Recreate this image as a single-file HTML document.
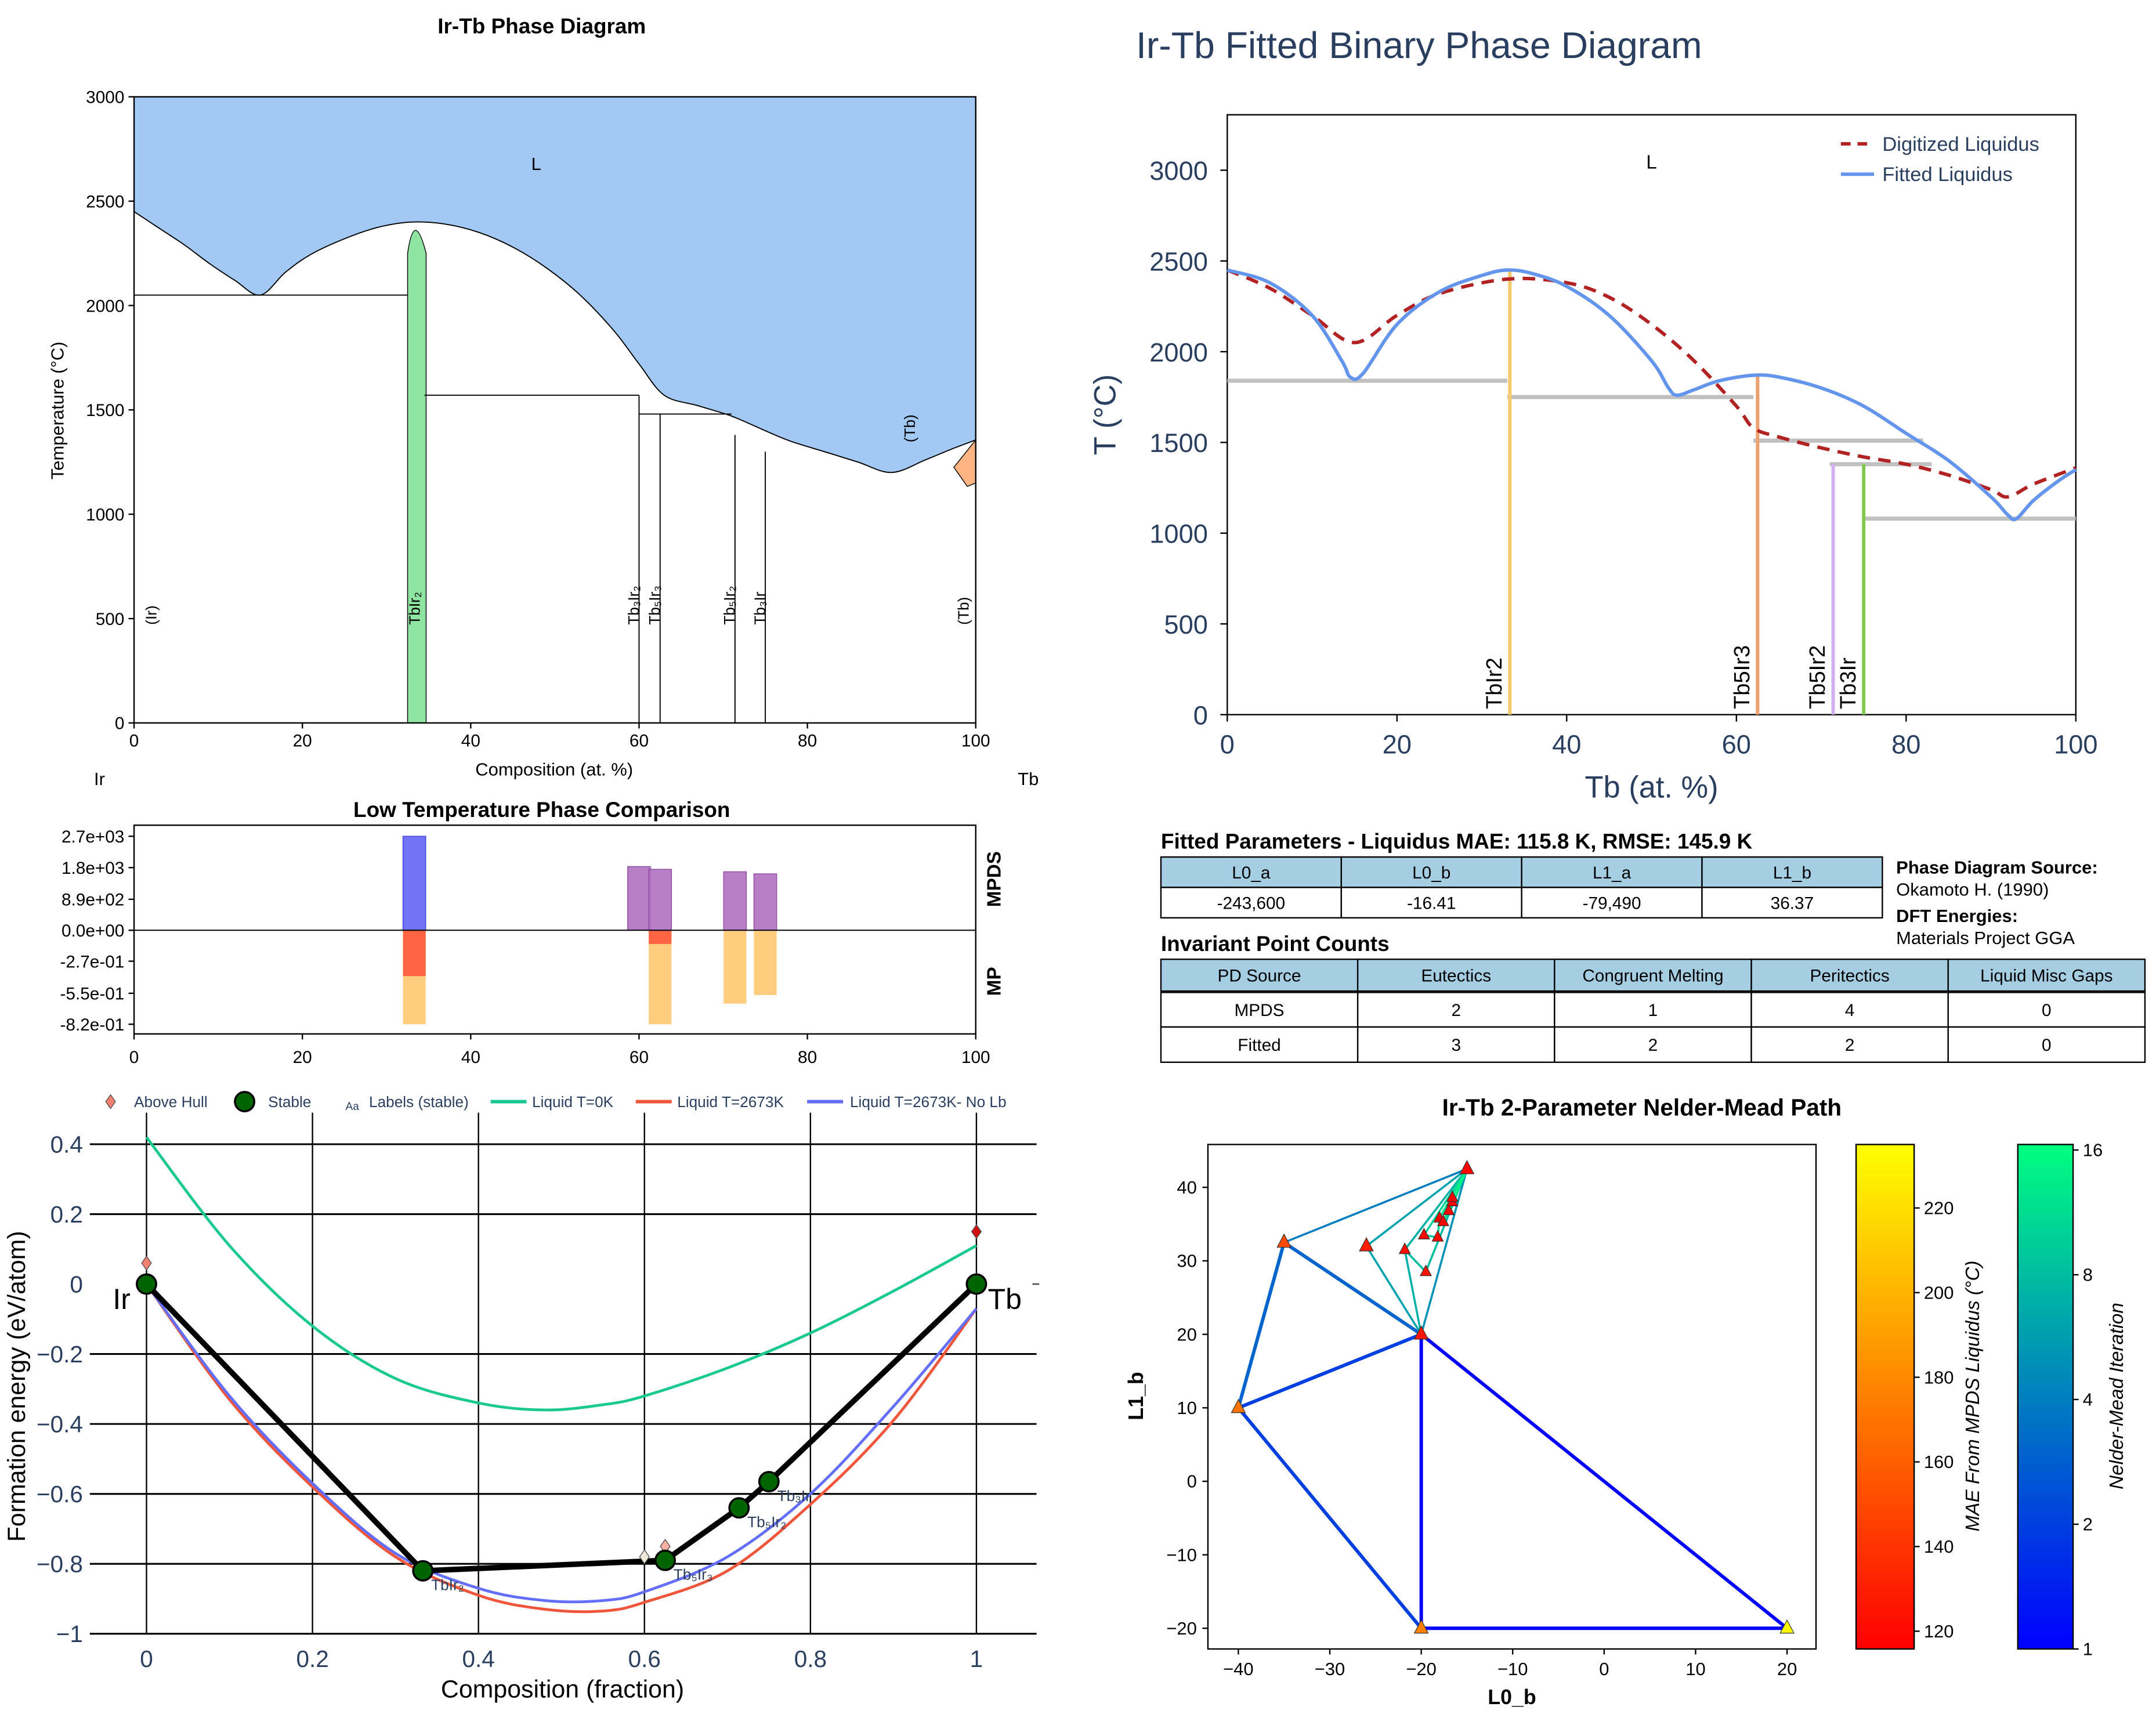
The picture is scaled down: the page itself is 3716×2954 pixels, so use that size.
<!DOCTYPE html>
<html><head><meta charset="utf-8"><style>
html,body{margin:0;padding:0;background:#fff;}
svg{display:block;font-family:"Liberation Sans","DejaVu Sans",sans-serif;}
</style></head><body>
<svg id="root" width="3716" height="2954" viewBox="0 0 1560 1240" xmlns="http://www.w3.org/2000/svg">
<rect x="0" y="0" width="1560" height="1240" fill="#fff"/>
</svg>
<script>
// ---------- Panel 1 data ----------
const pdLiquidus = [[0,2450],[3,2370],[6,2290],[9,2200],[12,2120],[15,2050],[18,2160],[21,2245],[25,2320],[29,2375],[33,2400],[37,2390],[41,2350],[45,2280],[49,2180],[53,2050],[57,1880],[60,1720],[63,1570],[67,1520],[71,1470],[75,1400],[78,1350],[82,1300],[86,1250],[90,1200],[94,1260],[97,1310],[100,1356]];
const pdXTicks = [0,20,40,60,80,100];
const pdYTicks = [0,500,1000,1500,2000,2500,3000];
const pdHLines = [[0,32.5,2050],[34.5,60,1570],[60,71,1480]];
const pdVLines = [[60,1570],[62.5,1480],[71.4,1380],[75,1300]];
const pdPhaseLabels = [["(Ir)",2],["TbIr₂",33.3],["Tb₃Ir₂",59.3],["Tb₅Ir₃",61.8],["Tb₅Ir₂",70.7],["Tb₃Ir",74.3],["(Tb)",98.5]];
// ---------- Panel 2 data ----------
const cmpPos = [33.3,60,62.5,71.4,75];
const cmpMPDS = [2700,1830,1750,1680,1620];
const cmpMP = [-0.82,null,-0.82,-0.64,-0.565];
const cmpMPred = [-0.40,null,-0.12,null,null];
const cmpTopTicks = ["2.7e+03","1.8e+03","8.9e+02","0.0e+00"];
const cmpTopVals = [2700,1800,890,0];
const cmpBotTicks = ["-2.7e-01","-5.5e-01","-8.2e-01"];
const cmpBotVals = [-0.27,-0.55,-0.82];
// ---------- Panel 3 data ----------
const hullX = [0,0.333,0.625,0.714,0.75,1];
const hullE = [0,-0.82,-0.79,-0.64,-0.565,0];
const hullLabels = ["","TbIr₂","Tb₅Ir₃","Tb₅Ir₂","Tb₃Ir",""];
const aboveX = [0,0.6,0.625,1,1];
const aboveE = [0.06,-0.78,-0.75,0.15,0.01];
const aboveColors = ["#f08070","#f0e8d8","#f8b0a0","#d01010","#f0e8d8"];
const liqX = [0,0.1,0.2,0.3,0.4,0.48,0.55,0.6,0.7,0.8,0.9,1];
const liq0K = [0.42,0.11,-0.12,-0.27,-0.34,-0.36,-0.345,-0.32,-0.24,-0.14,-0.02,0.11];
const liqHot = [0,-0.33,-0.58,-0.78,-0.89,-0.93,-0.935,-0.91,-0.82,-0.63,-0.39,-0.07];
const liqNoLb = [0,-0.32,-0.57,-0.77,-0.87,-0.905,-0.905,-0.88,-0.78,-0.6,-0.35,-0.07];
const hullXTicks = [0,0.2,0.4,0.6,0.8,1];
const hullYTicks = [0.4,0.2,0,-0.2,-0.4,-0.6,-0.8,-1];
// ---------- Panel 4 data ----------
const fitDigX = [0,5,10,15,20,25,33,40,45,50,55,60,62,65,70,75,80,85,90,92,95,100];
const fitDigT = [2450,2350,2200,2050,2200,2320,2400,2380,2300,2150,1950,1700,1580,1530,1470,1420,1380,1320,1240,1200,1270,1360];
const fitFX = [0,5,10,13.5,14.5,16,20,25,30,33,36,40,45,50,52,53,55,58,62,65,70,75,80,85,90,92,93,95,98,100];
const fitFT = [2450,2380,2200,1950,1860,1880,2150,2330,2420,2450,2430,2360,2200,1950,1800,1760,1790,1840,1870,1860,1800,1700,1550,1400,1200,1100,1080,1180,1290,1350];
const fitInv = [[0,33,1840],[33,62,1750],[62,82,1510],[71,83,1380],[75,100,1080]];
const fitPhases = ["TbIr2","Tb5Ir3","Tb5Ir2","Tb3Ir"];
const fitPhaseX = [33.3,62.5,71.4,75];
const fitPhaseT = [2450,1870,1380,1380];
const fitPhaseColors = ["#f5c96b","#f0a070","#d4aef2","#80c850"];
const fitXTicks = [0,20,40,60,80,100];
const fitYTicks = [0,500,1000,1500,2000,2500,3000];
// ---------- Panel 5 data ----------
const nmL0 = [20,-20,-20,-40,-35,-26,-15,-21.8,-19.5,-19.7,-18.2,-18,-17.6,-17,-16.6,-16.6];
const nmL1 = [-20,-20,20,10,32.5,32,42.5,31.5,28.5,33.5,33.2,35.8,35.3,36.8,38,38.6];
const nmMAE = [232,175,125,170,150,130,118,122,125,120,120,118,118,117,116,116];
const nmEdgeA = [1,0,1,3,3,3,4,4,6,5,5,7,7,8,8,9,9,10,11,12,13,14];
const nmEdgeB = [0,2,2,1,2,4,2,6,2,2,6,2,6,7,6,10,6,11,6,6,6,6];
const nmEdgeIter = [1,1,1,2,2,3,3,4,5,6,6,7,7,8,8,9,10,11,12,13,14,15];
const nmXTicks = [-40,-30,-20,-10,0,10,20];
const nmYTicks = [-20,-10,0,10,20,30,40];
const maeTicks = [120,140,160,180,200,220];
const iterTicks = [1,2,4,8,16];

const NS = "http://www.w3.org/2000/svg";
const root = document.getElementById('root');
function mk(tag, attrs, parent){const e=document.createElementNS(NS,tag);for(const k in attrs)e.setAttribute(k,attrs[k]);(parent||root).appendChild(e);return e;}
function txt(s, x, y, attrs, parent){const e=mk('text',Object.assign({x:x,y:y},attrs||{}),parent);e.textContent=s;return e;}
function poly(pts){return pts.map(p=>p[0].toFixed(2)+','+p[1].toFixed(2)).join(' ');}
function smooth(pts){let d='M'+pts[0][0].toFixed(2)+','+pts[0][1].toFixed(2);
 for(let i=0;i<pts.length-1;i++){const p0=pts[Math.max(0,i-1)],p1=pts[i],p2=pts[i+1],p3=pts[Math.min(pts.length-1,i+2)];
 const c1=[p1[0]+(p2[0]-p0[0])/6,p1[1]+(p2[1]-p0[1])/6],c2=[p2[0]-(p3[0]-p1[0])/6,p2[1]-(p3[1]-p1[1])/6];
 d+=` C${c1[0].toFixed(2)},${c1[1].toFixed(2)} ${c2[0].toFixed(2)},${c2[1].toFixed(2)} ${p2[0].toFixed(2)},${p2[1].toFixed(2)}`;}
 return d;}

// ================= PANEL 1 =================
(function(){
const g=mk('g',{});


const X=c=>97+c*6.09, Y=T=>523-T*453/3000;
const lp=pdLiquidus.map(p=>[X(p[0]),Y(p[1])]);
const sp=smooth(lp);
const liq=mk('path',{d:`M${X(0)},${Y(3000)} L${lp[0][0]},${lp[0][1]} `+sp.slice(sp.indexOf('C'))+` L${X(100)},${Y(3000)} Z`,fill:'#a1c9f4',stroke:'none'},g);


const ll=mk('path',{d:sp,fill:'none',stroke:'#000','stroke-width':0.8},g);


const tri=mk('polygon',{points:poly([[X(100),Y(1356)],[X(97.4),Y(1225)],[X(99),Y(1133)],[X(100),Y(1150)]]),fill:'#ffb482',stroke:'#000','stroke-width':0.6},g);


const band=mk('path',{d:`M${X(32.5)},${Y(0)} L${X(32.5)},${Y(2250)} Q${X(33.3)},${Y(2470)} ${X(34.7)},${Y(2250)} L${X(34.7)},${Y(0)} Z`,fill:'#8de5a1',stroke:'#000','stroke-width':0.6},g);


pdHLines.forEach(h=>{const l=mk('line',{x1:X(h[0]),x2:X(h[1]),y1:Y(h[2]),y2:Y(h[2]),stroke:'#000','stroke-width':0.8},g);

});
pdVLines.forEach(v=>{const l=mk('line',{x1:X(v[0]),x2:X(v[0]),y1:Y(0),y2:Y(v[1]),stroke:'#000','stroke-width':0.8},g);

});
const fr=mk('rect',{x:X(0),y:Y(3000),width:X(100)-X(0),height:Y(0)-Y(3000),fill:'none',stroke:'#000','stroke-width':1},g);


pdXTicks.forEach(t=>{mk('line',{x1:X(t),x2:X(t),y1:Y(0),y2:Y(0)+4,stroke:'#000'},g);
const e=txt(String(t),X(t),540,{'font-size':12.5,'text-anchor':'middle'},g);

});
pdYTicks.forEach(t=>{mk('line',{x1:X(0)-4,x2:X(0),y1:Y(t),y2:Y(t),stroke:'#000'},g);
const e=txt(String(t),X(0)-7,Y(t)+4.5,{'font-size':12.5,'text-anchor':'end'},g);

});
pdPhaseLabels.forEach(p=>{const x=X(p[1])+4,y=452;const e=txt(p[0],x,y,{'font-size':11,transform:`rotate(-90 ${x} ${y})`},g);

});
let e=txt('(Tb)',662,320,{'font-size':11,transform:'rotate(-90 662 320)'},g);


e=txt('L',388,123,{'font-size':13,'text-anchor':'middle'},g);


e=txt('Ir-Tb Phase Diagram',392,24,{'font-size':15.5,'font-weight':'bold','text-anchor':'middle'},g);


e=txt('Composition (at. %)',401,561,{'font-size':13,'text-anchor':'middle'},g);


e=txt('Temperature (°C)',46,297,{'font-size':13,'text-anchor':'middle',transform:'rotate(-90 46 297)'},g);


e=txt('Ir',72,568,{'font-size':13,'text-anchor':'middle'},g);


e=txt('Tb',744,568,{'font-size':13,'text-anchor':'middle'},g);


})();

// ================= PANEL 2 =================
(function(){
const g=mk('g',{});


const X=c=>97+c*6.09, YT=v=>673-v*68/2700, YB=v=>673+(-v)*68/0.82;
const bw=2.7*6.09;
cmpPos.forEach((c,i)=>{
 const v=cmpMPDS[i];
 const b=mk('rect',{x:X(c)-bw/2,y:YT(v),width:bw,height:673-YT(v),fill:i===0?'#6b6bf5':'#b070c0','fill-opacity':i===0?0.95:0.9,stroke:i===0?'#4040e0':'#904aa0','stroke-width':0.6},g);
 
 
 if(cmpMP[i]!==null){const m=mk('rect',{x:X(c)-bw/2,y:673,width:bw,height:YB(cmpMP[i])-673,fill:'#ffc870','fill-opacity':0.9},g);
 
 }
 if(cmpMPred[i]!==null){const r=mk('rect',{x:X(c)-bw/2,y:673,width:bw,height:YB(cmpMPred[i])-673,fill:'#ff5a3c','fill-opacity':0.9},g);
 
 }
});
mk('line',{x1:X(0),x2:X(100),y1:673,y2:673,stroke:'#000','stroke-width':0.8},g);
const fr=mk('rect',{x:X(0),y:597,width:X(100)-X(0),height:151,fill:'none',stroke:'#000','stroke-width':1},g);


cmpTopVals.forEach((v,i)=>{mk('line',{x1:X(0)-4,x2:X(0),y1:YT(v),y2:YT(v),stroke:'#000'},g);
const e=txt(cmpTopTicks[i],X(0)-7,YT(v)+4.5,{'font-size':12.5,'text-anchor':'end'},g);

});
cmpBotVals.forEach((v,i)=>{mk('line',{x1:X(0)-4,x2:X(0),y1:YB(v),y2:YB(v),stroke:'#000'},g);
const e=txt(cmpBotTicks[i],X(0)-7,YB(v)+4.5,{'font-size':12.5,'text-anchor':'end'},g);

});
pdXTicks.forEach(t=>{mk('line',{x1:X(t),x2:X(t),y1:748,y2:752,stroke:'#000'},g);
const e=txt(String(t),X(t),769,{'font-size':12.5,'text-anchor':'middle'},g);

});
let e=txt('Low Temperature Phase Comparison',392,591,{'font-size':15.5,'font-weight':'bold','text-anchor':'middle'},g);


e=txt('MPDS',724,636,{'font-size':14,'font-weight':'bold','text-anchor':'middle',transform:'rotate(-90 724 636)'},g);


e=txt('MP',724,710,{'font-size':14,'font-weight':'bold','text-anchor':'middle',transform:'rotate(-90 724 710)'},g);


})();

// ================= PANEL 3 =================
(function(){
const g=mk('g',{});


const X=f=>106+f*600.5, Y=v=>929-v*253;
hullYTicks.forEach(t=>{const l=mk('line',{x1:65,x2:750,y1:Y(t),y2:Y(t),stroke:'#000','stroke-width':t===0?0:1.3},g);


const e=txt(t===0?'0':String(t).replace('-','−'),60,Y(t)+6,{'font-size':17,'text-anchor':'end',fill:'#2a3f5f'},g);

});
mk('line',{x1:747,x2:752,y1:Y(0),y2:Y(0),stroke:'#444'},g);
hullXTicks.forEach(t=>{const l=mk('line',{x1:X(t),x2:X(t),y1:805,y2:Y(-1),stroke:'#000','stroke-width':1},g);


const e=txt(String(t),X(t),1206,{'font-size':17,'text-anchor':'middle',fill:'#2a3f5f'},g);

});
function curve(xs,ys,col,name){const p=mk('path',{d:smooth(xs.map((x,i)=>[X(x),Y(ys[i])])),fill:'none',stroke:col,'stroke-width':2,'stroke-linejoin':'round'},g);

}
curve(liqX,liq0K,'#19c98f','liquid-0k-curve');
curve(liqX,liqHot,'#ef553b','liquid-2673k-curve');
curve(liqX,liqNoLb,'#636efa','liquid-2673k-no-lb-curve');
const h=mk('polyline',{points:poly(hullX.map((x,i)=>[X(x),Y(hullE[i])])),fill:'none',stroke:'#000','stroke-width':4,'stroke-linejoin':'round'},g);


aboveX.forEach((x,i)=>{const cx=X(x),cy=Y(aboveE[i]);const d=mk('polygon',{points:poly([[cx,cy-5],[cx+3.5,cy],[cx,cy+5],[cx-3.5,cy]]),fill:aboveColors[i],stroke:'#555','stroke-width':0.6},g);

});
hullX.forEach((x,i)=>{const c=mk('circle',{cx:X(x),cy:Y(hullE[i]),r:7,fill:'#006400',stroke:'#000','stroke-width':1.5},g);


if(hullLabels[i]){const e=txt(hullLabels[i],X(x)+6,Y(hullE[i])+14,{'font-size':11,fill:'#2a3f5f'},g);

}});
let e=txt('Ir',88,947,{'font-size':21,'text-anchor':'middle'},g);


e=txt('Tb',727,947,{'font-size':21,'text-anchor':'middle'},g);


e=txt('Composition (fraction)',407,1228,{'font-size':18,'text-anchor':'middle',fill:'#000'},g);


e=txt('Formation energy (eV/atom)',18,1003,{'font-size':18,'text-anchor':'middle',transform:'rotate(-90 18 1003)'},g);


const lg=mk('g',{},g);


mk('polygon',{points:poly([[80,792],[83.5,797],[80,802],[76.5,797]]),fill:'#f08070',stroke:'#555','stroke-width':0.6},lg);
txt('Above Hull',97,801,{'font-size':11,fill:'#2a3f5f'},lg);
mk('circle',{cx:177,cy:797,r:7,fill:'#006400',stroke:'#000','stroke-width':1.5},lg);
txt('Stable',194,801,{'font-size':11,fill:'#2a3f5f'},lg);
txt('Aa',250,803,{'font-size':8,fill:'#2a3f5f'},lg);
txt('Labels (stable)',267,801,{'font-size':11,fill:'#2a3f5f'},lg);
mk('line',{x1:355,x2:381,y1:797,y2:797,stroke:'#19c98f','stroke-width':2.5},lg);
txt('Liquid T=0K',385,801,{'font-size':11,fill:'#2a3f5f'},lg);
mk('line',{x1:460,x2:486,y1:797,y2:797,stroke:'#ef553b','stroke-width':2.5},lg);
txt('Liquid T=2673K',490,801,{'font-size':11,fill:'#2a3f5f'},lg);
mk('line',{x1:584,x2:610,y1:797,y2:797,stroke:'#636efa','stroke-width':2.5},lg);
txt('Liquid T=2673K- No Lb',615,801,{'font-size':11,fill:'#2a3f5f'},lg);
})();

// ================= PANEL 4 =================
(function(){
const g=mk('g',{});


const X=c=>888+c*6.14, Y=T=>517-T*0.1313;
const fr=mk('rect',{x:888,y:83,width:614,height:434,fill:'#fff',stroke:'#000','stroke-width':1},g);


fitInv.forEach(h=>{const l=mk('line',{x1:X(h[0]),x2:X(h[1]),y1:Y(h[2]),y2:Y(h[2]),stroke:'#c0c0c0','stroke-width':3},g);

});
fitPhases.forEach((p,i)=>{const l=mk('line',{x1:X(fitPhaseX[i]),x2:X(fitPhaseX[i]),y1:Y(0),y2:Y(fitPhaseT[i]),stroke:fitPhaseColors[i],'stroke-width':2.5},g);


const x=X(fitPhaseX[i])-6,y=513;const e=txt(p,x,y,{'font-size':16,fill:'#000',transform:`rotate(-90 ${x} ${y})`},g);

});
const d=mk('path',{d:smooth(fitDigX.map((x,i)=>[X(x),Y(fitDigT[i])])),fill:'none',stroke:'#b22222','stroke-width':2.5,'stroke-dasharray':'9,6'},g);


const f=mk('path',{d:smooth(fitFX.map((x,i)=>[X(x),Y(fitFT[i])])),fill:'none',stroke:'#6495ed','stroke-width':2.5,'stroke-linejoin':'round'},g);


fitXTicks.forEach(t=>{mk('line',{x1:X(t),x2:X(t),y1:517,y2:522,stroke:'#000'},g);
const e=txt(String(t),X(t),545,{'font-size':19,'text-anchor':'middle',fill:'#2a3f5f'},g);

});
fitYTicks.forEach(t=>{mk('line',{x1:883,x2:888,y1:Y(t),y2:Y(t),stroke:'#000'},g);
const e=txt(String(t),874,Y(t)+7,{'font-size':19,'text-anchor':'end',fill:'#2a3f5f'},g);

});
let e=txt('Ir-Tb Fitted Binary Phase Diagram',822,42,{'font-size':27,fill:'#2a3f5f'},g);


e=txt('Tb (at. %)',1195,577,{'font-size':22,'text-anchor':'middle',fill:'#2a3f5f'},g);


e=txt('T (°C)',807,300,{'font-size':22,'text-anchor':'middle',fill:'#2a3f5f',transform:'rotate(-90 807 300)'},g);


e=txt('L',1195,122,{'font-size':14,'text-anchor':'middle'},g);


const lg=mk('g',{},g);


mk('line',{x1:1332,x2:1356,y1:104,y2:104,stroke:'#b22222','stroke-width':2.5,'stroke-dasharray':'7,5'},lg);
txt('Digitized Liquidus',1362,109,{'font-size':14.5,fill:'#2a3f5f'},lg);
mk('line',{x1:1332,x2:1356,y1:126,y2:126,stroke:'#6495ed','stroke-width':2.5},lg);
txt('Fitted Liquidus',1362,131,{'font-size':14.5,fill:'#2a3f5f'},lg);
})();

// ================= TABLES =================
(function(){
const g=mk('g',{});


let e=txt('Fitted Parameters - Liquidus MAE: 115.8 K, RMSE: 145.9 K',840,614,{'font-size':15.5,'font-weight':'bold'},g);


function table(x0,y0,cw,rh,rows,name){
 const t=mk('g',{},g);
 
 
 rows.forEach((r,ri)=>r.forEach((c,ci)=>{
  mk('rect',{x:x0+ci*cw,y:y0+ri*rh[ri][0],width:cw,height:rh[ri][1],fill:ri===0?'#a6cee3':'#fff',stroke:'#000','stroke-width':1},t);
  const tx=txt(c,x0+ci*cw+cw/2,y0+rh[ri][0]*ri+rh[ri][1]/2+4.5,{'font-size':12.5,'text-anchor':'middle'},t);
  
  
 }));
}
table(840,620,130.5,[[0,22],[22,22]],[["L0_a","L0_b","L1_a","L1_b"],["-243,600","-16.41","-79,490","36.37"]],'fitted-params-table');
table(840,694,142.4,[[0,23],[24,25],[24.5,25.5]],[["PD Source","Eutectics","Congruent Melting","Peritectics","Liquid Misc Gaps"],["MPDS","2","1","4","0"],["Fitted","3","2","2","0"]],'invariant-table');
e=txt('Invariant Point Counts',840,688,{'font-size':15.5,'font-weight':'bold'},g);


e=txt('Phase Diagram Source:',1372,632,{'font-size':13,'font-weight':'bold'},g);


e=txt('Okamoto H. (1990)',1372,648,{'font-size':13},g);


e=txt('DFT Energies:',1372,667,{'font-size':13,'font-weight':'bold'},g);


e=txt('Materials Project GGA',1372,683,{'font-size':13},g);


})();

// ================= PANEL 5 =================
(function(){
const g=mk('g',{});


const X=v=>1160.7+v*6.617, Y=v=>1071.7-v*5.317;
const defs=mk('defs',{},g);
const g1=mk('linearGradient',{id:'autumn',x1:0,y1:1,x2:0,y2:0},defs);
mk('stop',{offset:0,'stop-color':'#ff0000'},g1);mk('stop',{offset:1,'stop-color':'#ffff00'},g1);
const g2=mk('linearGradient',{id:'winter',x1:0,y1:1,x2:0,y2:0},defs);
mk('stop',{offset:0,'stop-color':'#0000ff'},g2);mk('stop',{offset:1,'stop-color':'#00ff80'},g2);
const maeMin=115.8,maeMax=235;
function maeColor(v){const t=Math.max(0,Math.min(1,(v-maeMin)/(maeMax-maeMin)));return `rgb(255,${Math.round(255*t)},0)`;}
function iterColor(it){const t=Math.log(it)/Math.log(16.5);return `rgb(0,${Math.round(255*t)},${Math.round(255-127*t)})`;}
nmEdgeA.forEach((a,i)=>{const b=nmEdgeB[i];const w=nmEdgeIter[i]<=3?2.5:1.5;
const l=mk('line',{x1:X(nmL0[a]),y1:Y(nmL1[a]),x2:X(nmL0[b]),y2:Y(nmL1[b]),stroke:iterColor(nmEdgeIter[i]),'stroke-width':w},g);

});
nmL0.forEach((v,i)=>{const cx=X(v),cy=Y(nmL1[i]);const s=i<7?5:4;
const t=mk('polygon',{points:poly([[cx,cy-s*1.2],[cx+s,cy+s*0.7],[cx-s,cy+s*0.7]]),fill:maeColor(nmMAE[i]),stroke:'#333','stroke-width':0.5},g);

});
const fr=mk('rect',{x:874,y:828,width:440,height:365,fill:'none',stroke:'#000','stroke-width':1},g);


nmXTicks.forEach(t=>{mk('line',{x1:X(t),x2:X(t),y1:1193,y2:1197,stroke:'#000'},g);
const e=txt(String(t).replace('-','−'),X(t),1212,{'font-size':13,'text-anchor':'middle'},g);

});
nmYTicks.forEach(t=>{mk('line',{x1:870,x2:874,y1:Y(t),y2:Y(t),stroke:'#000'},g);
const e=txt(String(t).replace('-','−'),866,Y(t)+4.5,{'font-size':13,'text-anchor':'end'},g);

});
let e=txt('Ir-Tb 2-Parameter Nelder-Mead Path',1188,807,{'font-size':17,'font-weight':'bold','text-anchor':'middle'},g);


e=txt('L0_b',1094,1233,{'font-size':15,'font-weight':'bold','text-anchor':'middle'},g);


e=txt('L1_b',827,1010,{'font-size':15,'font-weight':'bold','text-anchor':'middle',transform:'rotate(-90 827 1010)'},g);


const cb1=mk('rect',{x:1343,y:828,width:42,height:365,fill:'url(#autumn)',stroke:'#000','stroke-width':1},g);


const CY=v=>1193-(v-maeMin)/(maeMax-maeMin)*365;
maeTicks.forEach(t=>{mk('line',{x1:1385,x2:1389,y1:CY(t),y2:CY(t),stroke:'#000'},g);
const e=txt(String(t),1392,CY(t)+4.5,{'font-size':13},g);

});
e=txt('MAE From MPDS Liquidus (°C)',1432,1010,{'font-size':14,'font-style':'italic','text-anchor':'middle',transform:'rotate(-90 1432 1010)'},g);


const cb2=mk('rect',{x:1460,y:828,width:40,height:365,fill:'url(#winter)',stroke:'#000','stroke-width':1},g);


const IY=v=>1193-Math.log(v)/Math.log(16.5)*365;
iterTicks.forEach(t=>{mk('line',{x1:1500,x2:1504,y1:IY(t),y2:IY(t),stroke:'#000'},g);
const e=txt(String(t),1507,IY(t)+4.5,{'font-size':13},g);

});
e=txt('Nelder-Mead Iteration',1536,1010,{'font-size':14,'font-style':'italic','text-anchor':'middle',transform:'rotate(-90 1536 1010)'},g);


})();
</script>
</body></html>
